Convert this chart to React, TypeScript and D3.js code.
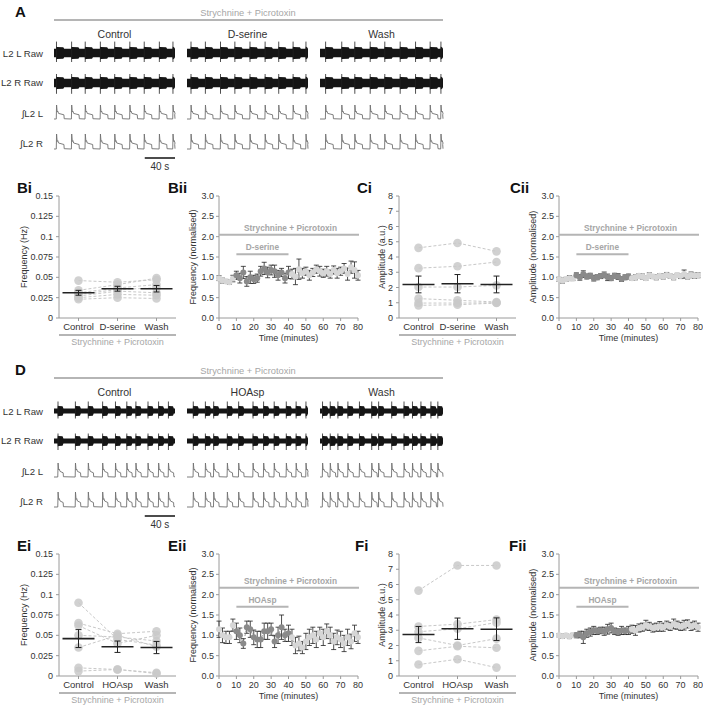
import React from "react";
import * as d3 from "d3";

const FONT = "'Liberation Sans', Arial, Helvetica, sans-serif";

// ---------------- Data ----------------
const traceLabels = ["L2 L Raw", "L2 R Raw", "\u222BL2 L", "\u222BL2 R"];
const conditionsTop = ["Control", "D-serine", "Wash"];
const conditionsBottom = ["Control", "HOAsp", "Wash"];
const drugTop = "D-serine";
const drugBottom = "HOAsp";
const bathLabel = "Strychnine + Picrotoxin";
const scaleBarLabel = "40 s";
const scaleBarSeconds = 40;
const blockSeconds = 160;

// burst onset times (s) within each 160 s trace block
const burstsTop = [
  [3, 23, 41, 61, 80, 100, 119, 139, 157],
  [5, 24, 44, 63, 83, 103, 121, 140, 157],
  [7, 28, 45, 65, 84, 104, 124, 143, 157],
];
const burstsBottom = [
  [5, 28, 45, 64, 81, 96, 108, 124, 138, 151],
  [8, 24, 35, 53, 68, 87, 101, 115, 131, 144, 157],
  [3, 13, 23, 36, 51, 67, 76, 93, 109, 120, 131, 144, 153],
];

// Frequency (Hz) per preparation: [Control, Drug, Wash]
const freqTicks = [0, 0.025, 0.05, 0.075, 0.1, 0.125, 0.15];
const freqTickLabels = ["0", "0.025", "0.05", "0.075", "0.1", "0.125", "0.15"];
const ampTicks = [0, 1, 2, 3, 4, 5, 6, 7, 8];
const ampTickLabels = ["0", "1", "2", "3", "4", "5", "6", "7", "8"];
const normTicks = [0, 0.5, 1, 1.5, 2, 2.5, 3];
const normTickLabels = ["0.0", "0.5", "1.0", "1.5", "2.0", "2.5", "3.0"];
const timeTicks = [0, 10, 20, 30, 40, 50, 60, 70, 80];

const biSubjects = [
  [0.046, 0.044, 0.047],
  [0.034, 0.041, 0.049],
  [0.031, 0.037, 0.041],
  [0.029, 0.035, 0.037],
  [0.027, 0.033, 0.031],
  [0.025, 0.029, 0.028],
  [0.023, 0.025, 0.024],
];
const biMean = [0.031, 0.036, 0.036];
const biSem = [0.003, 0.003, 0.004];

const ciSubjects = [
  [4.6, 4.92, 4.37],
  [3.27, 3.39, 3.67],
  [2.03, 2.03, 2.14],
  [1.27, 1.16, 1.05],
  [0.98, 0.98, 1.0],
  [0.83, 0.87, 0.98],
];
const ciMean = [2.2, 2.25, 2.2];
const ciSem = [0.55, 0.6, 0.55];

const eiSubjects = [
  [0.09, 0.045, 0.038],
  [0.065, 0.052, 0.055],
  [0.062, 0.04, 0.05],
  [0.05, 0.048, 0.043],
  [0.035, 0.05, 0.036],
  [0.01, 0.008, 0.004],
  [0.006, 0.008, 0.003],
];
const eiMean = [0.046, 0.036, 0.035];
const eiSem = [0.011, 0.007, 0.0075];

const fiSubjects = [
  [5.6, 7.25, 7.25],
  [3.25, 3.4, 3.7],
  [2.9, 3.1, 3.5],
  [2.5, 2.0, 2.45],
  [1.65, 1.95, 1.85],
  [0.75, 1.1, 0.55],
];
const fiMean = [2.72, 3.1, 3.07];
const fiSem = [0.53, 0.7, 0.74];

// time course (minutes), normalised values
const seriesTimes = [
  0, 2, 4, 6, 8, 10, 12, 14, 16, 18, 20, 22, 24, 26, 28, 30, 32, 34, 36, 38, 40,
  42, 44, 46, 48, 50, 52, 54, 56, 58, 60, 62, 64, 66, 68, 70, 72, 74, 76, 78, 80,
];
const drugStart = 10;
const drugEnd = 40;
const biiMean = [
  0.98, 0.92, 0.9, 0.88, 0.97, 1.05, 0.98, 1.12, 0.9, 1.0, 0.95, 0.98, 1.15, 1.22, 1.12,
  1.18, 1.15, 1.05, 1.12, 0.98, 1.12, 1.08, 1.02, 1.2, 1.1, 1.15, 1.05, 1.12, 1.2, 1.15,
  1.1, 1.15, 1.08, 1.18, 1.1, 1.15, 1.22, 1.08, 1.25, 1.18, 1.05,
];
const biiErr = [
  0.06, 0.06, 0.05, 0.05, 0.08, 0.1, 0.12, 0.15, 0.12, 0.15, 0.1, 0.1, 0.12, 0.15, 0.13,
  0.12, 0.15, 0.12, 0.1, 0.12, 0.15, 0.12, 0.2, 0.25, 0.12, 0.1, 0.12, 0.1, 0.1, 0.12,
  0.1, 0.12, 0.1, 0.1, 0.12, 0.1, 0.12, 0.15, 0.15, 0.2, 0.12,
];
const ciiMean = [
  0.95, 0.92, 0.95, 0.98, 0.97, 1.05, 1.0, 1.08, 1.02, 1.04, 0.98, 1.0, 1.03, 1.06, 1.0,
  0.98, 1.04, 1.02, 0.96, 1.0, 1.02, 0.98, 1.0, 1.04, 1.02, 0.98, 1.05, 1.02, 1.0, 1.04,
  1.02, 1.06, 1.03, 1.0, 1.05, 1.03, 1.08, 1.02, 1.06, 1.04, 1.05,
];
const ciiErr = [
  0.05, 0.06, 0.05, 0.06, 0.05, 0.06, 0.07, 0.08, 0.06, 0.06, 0.07, 0.06, 0.06, 0.07, 0.08,
  0.06, 0.06, 0.07, 0.06, 0.06, 0.06, 0.05, 0.06, 0.05, 0.06, 0.05, 0.06, 0.05, 0.06, 0.05,
  0.06, 0.06, 0.05, 0.06, 0.05, 0.06, 0.1, 0.06, 0.07, 0.06, 0.06,
];
const eiiMean = [
  1.15, 1.0, 0.95, 0.95, 1.25, 1.1, 1.0, 0.8, 1.2, 1.15, 0.95, 0.9, 0.9, 1.1, 1.1, 1.15,
  0.85, 1.0, 1.2, 1.0, 1.05, 0.95, 0.75, 0.8, 0.7, 0.85, 0.95, 1.0, 0.9, 1.05, 0.95, 1.1,
  1.0, 0.85, 0.95, 0.9, 0.8, 0.95, 0.85, 1.05, 0.95,
];
const eiiErr = [
  0.2, 0.18, 0.15, 0.15, 0.15, 0.2, 0.18, 0.12, 0.15, 0.2, 0.18, 0.2, 0.2, 0.2, 0.2, 0.15,
  0.15, 0.2, 0.3, 0.15, 0.2, 0.2, 0.2, 0.18, 0.15, 0.2, 0.2, 0.2, 0.2, 0.15, 0.2, 0.18,
  0.2, 0.2, 0.18, 0.2, 0.2, 0.2, 0.18, 0.2, 0.15,
];
const fiiMean = [
  1.0, 0.98, 1.0, 0.97, 1.0, 1.0, 1.02, 0.95, 1.05, 1.08, 1.12, 1.1, 1.12, 1.1, 1.15, 1.18,
  1.1, 1.08, 1.12, 1.1, 1.12, 1.15, 1.12, 1.18, 1.2, 1.25, 1.22, 1.18, 1.2, 1.22, 1.2,
  1.25, 1.22, 1.28, 1.25, 1.22, 1.25, 1.28, 1.22, 1.25, 1.2,
];
const fiiErr = [
  0.04, 0.05, 0.04, 0.05, 0.05, 0.06, 0.08, 0.15, 0.1, 0.1, 0.1, 0.08, 0.08, 0.1, 0.12,
  0.12, 0.08, 0.08, 0.1, 0.08, 0.1, 0.1, 0.12, 0.1, 0.1, 0.12, 0.1, 0.1, 0.1, 0.12, 0.1,
  0.1, 0.1, 0.12, 0.1, 0.1, 0.12, 0.1, 0.1, 0.1, 0.1,
];

// ---------------- Styles / layout ----------------
const TEXT = "#333";
const AXIS = "#9a9a9a";
const GREYLINE = "#b5b5b5";
const GREYTEXT = "#a6a6a6";
const HALF = 358;
const blocksX = [
  [54, 175],
  [187, 308],
  [320, 443],
];

type Pt = { t: number; a: number };

function burstEnd(onsets: number[], i: number, dur: number) {
  const next = i + 1 < onsets.length ? onsets[i + 1] - 1.5 : blockSeconds;
  return Math.min(onsets[i] + dur, next, blockSeconds);
}

function rawEnvelope(onsets: number[], dur: number, base: number, burst: number): Pt[] {
  const pts: Pt[] = [{ t: 0, a: base }];
  onsets.forEach((o, i) => {
    const e = burstEnd(onsets, i, dur);
    pts.push({ t: Math.max(o - 0.3, 0), a: base });
    pts.push({ t: o, a: burst * 1.1 });
    pts.push({ t: Math.min(o + 1, e), a: burst });
    pts.push({ t: Math.max(e - 1.2, o + 1), a: burst * 0.95 });
    pts.push({ t: e, a: base });
  });
  pts.push({ t: blockSeconds, a: base });
  return pts;
}

function integrated(onsets: number[], dur: number): Pt[] {
  const pts: Pt[] = [{ t: 0, a: 0 }];
  onsets.forEach((o, i) => {
    const e = burstEnd(onsets, i, dur);
    const seg: Pt[] = [
      { t: o, a: 0 },
      { t: o + 0.4, a: 1 },
      { t: o + 1.2, a: 0.5 },
      { t: o + 2.0, a: 0.56 },
      { t: o + 3.0, a: 0.4 },
      { t: e - 0.4, a: 0.3 },
      { t: e, a: 0.02 },
    ];
    seg.forEach((p) => {
      if (p.t <= blockSeconds) pts.push(p);
    });
  });
  pts.push({ t: blockSeconds, a: 0.02 });
  return pts;
}

function Traces({ dy, letter, conds, bursts, dur, base, burst }: any) {
  const rowRawL = 53 + dy;
  const rowRawR = 83 + dy;
  const rowIntL = 119 + dy;
  const rowIntR = 149 + dy;
  const labelY = [57, 86, 117, 147];
  return (
    <g>
      <text x={15} y={17 + dy} fontSize={15} fontWeight="bold" fill="#111">
        {letter}
      </text>
      <text x={248} y={16 + dy} textAnchor="middle" fontSize={9.3} fill={GREYTEXT}>
        {bathLabel}
      </text>
      <line x1={54} x2={443} y1={20 + dy} y2={20 + dy} stroke={GREYLINE} strokeWidth={2} />
      {traceLabels.map((l, i) => (
        <text key={l} x={43} y={labelY[i] + dy} textAnchor="end" fontSize={9.6} fill={TEXT}>
          {l}
        </text>
      ))}
      {conds.map((c: string, bi: number) => {
        const [x0, x1] = blocksX[bi];
        const xs = d3.scaleLinear().domain([0, blockSeconds]).range([x0, x1]);
        const env = rawEnvelope(bursts[bi], dur, base, burst);
        const areaFor = (cy: number) =>
          d3
            .area<Pt>()
            .x((d) => xs(d.t))
            .y0((d) => cy + d.a)
            .y1((d) => cy - d.a)(env) as string;
        const integ = integrated(bursts[bi], dur);
        const lineFor = (cy: number, h: number) =>
          d3
            .line<Pt>()
            .x((d) => xs(d.t))
            .y((d) => cy - d.a * h)(integ) as string;
        return (
          <g key={c}>
            <text x={(x0 + x1) / 2} y={38 + dy} textAnchor="middle" fontSize={10.5} fill={TEXT}>
              {c}
            </text>
            <path d={areaFor(rowRawL)} fill="#151515" />
            <path d={areaFor(rowRawR)} fill="#151515" />
            {bursts[bi].map((o: number, k: number) => (
              <g key={k}>
                <line x1={xs(o + 0.3)} x2={xs(o + 0.3)} y1={rowRawL - burst * 1.9} y2={rowRawL + burst * 1.5} stroke="#222" strokeWidth={0.8} />
                <line x1={xs(o + 0.3)} x2={xs(o + 0.3)} y1={rowRawR - burst * 1.5} y2={rowRawR + burst * 1.8} stroke="#222" strokeWidth={0.8} />
              </g>
            ))}
            <path d={lineFor(rowIntL, 14)} fill="none" stroke="#707070" strokeWidth={0.9} />
            <path d={lineFor(rowIntR, 15)} fill="none" stroke="#707070" strokeWidth={0.9} />
          </g>
        );
      })}
      {(() => {
        const xs = d3.scaleLinear().domain([0, blockSeconds]).range(blocksX[0]);
        const xEnd = xs(blockSeconds);
        const xStart = xs(blockSeconds - scaleBarSeconds);
        return (
          <g>
            <line x1={xStart} x2={xEnd} y1={158 + dy} y2={158 + dy} stroke="#111" strokeWidth={1.5} />
            <text x={(xStart + xEnd) / 2} y={170 + dy} textAnchor="middle" fontSize={10} fill={TEXT}>
              {scaleBarLabel}
            </text>
          </g>
        );
      })()}
    </g>
  );
}

function ScatterPanel({ ox, dy, cats, subjects, mean, sem, yMax, ticks, tickLabels, yLabel, yLabelX, letter, letterX }: any) {
  const w = 117;
  const x = d3.scaleBand<string>().domain(cats).range([ox, ox + w]);
  const cx = (i: number) => (x(cats[i]) as number) + x.bandwidth() / 2;
  const y = d3.scaleLinear().domain([0, yMax]).range([318 + dy, 196 + dy]);
  const line = d3
    .line<number>()
    .x((_, i) => cx(i))
    .y((v) => y(v));
  return (
    <g>
      <text x={letterX} y={193 + dy} fontSize={15} fontWeight="bold" fill="#111">
        {letter}
      </text>
      <text transform={`translate(${yLabelX},${(y(0) + y(yMax)) / 2}) rotate(-90)`} textAnchor="middle" dy="0.35em" fontSize={9} fill={TEXT}>
        {yLabel}
      </text>
      <line x1={ox} x2={ox} y1={y(yMax)} y2={y(0)} stroke={AXIS} />
      {ticks.map((t: number, i: number) => (
        <g key={i}>
          <line x1={ox - 3} x2={ox} y1={y(t)} y2={y(t)} stroke={AXIS} />
          <text x={ox - 6} y={y(t)} dy="0.35em" textAnchor="end" fontSize={9} fill={TEXT}>
            {tickLabels[i]}
          </text>
        </g>
      ))}
      <line x1={ox} x2={ox + w} y1={y(0)} y2={y(0)} stroke={AXIS} />
      {cats.map((c: string, i: number) => (
        <g key={c}>
          <line x1={cx(i)} x2={cx(i)} y1={y(0)} y2={y(0) + 3} stroke={AXIS} />
          <text x={cx(i)} y={330 + dy} textAnchor="middle" fontSize={9.5} fill={TEXT}>
            {c}
          </text>
        </g>
      ))}
      <line x1={ox} x2={ox + w} y1={335 + dy} y2={335 + dy} stroke={GREYLINE} strokeWidth={2} />
      <text x={ox + w / 2} y={345 + dy} textAnchor="middle" fontSize={9} fill={GREYTEXT}>
        {bathLabel}
      </text>
      {subjects.map((s: number[], k: number) => (
        <path key={k} d={line(s) as string} fill="none" stroke="#c8c8c8" strokeWidth={1} strokeDasharray="3,2" />
      ))}
      {subjects.map((s: number[], k: number) =>
        s.map((v, i) => <circle key={`${k}-${i}`} cx={cx(i)} cy={y(v)} r={4.3} fill="#c9c9c9" fillOpacity={0.85} />)
      )}
      {mean.map((m: number, i: number) => (
        <g key={i} stroke="#222">
          <line x1={cx(i)} x2={cx(i)} y1={y(m - sem[i])} y2={y(m + sem[i])} strokeWidth={1} />
          <line x1={cx(i) - 3} x2={cx(i) + 3} y1={y(m - sem[i])} y2={y(m - sem[i])} strokeWidth={1} />
          <line x1={cx(i) - 3} x2={cx(i) + 3} y1={y(m + sem[i])} y2={y(m + sem[i])} strokeWidth={1} />
          <line x1={cx(i) - 16} x2={cx(i) + 16} y1={y(m)} y2={y(m)} strokeWidth={1.6} />
        </g>
      ))}
    </g>
  );
}

function TimePanel({ ox, dy, means, errs, yLabel, yLabelX, letter, letterX, drug, bathLevel, drugLevel }: any) {
  const x = d3.scaleLinear().domain([0, 80]).range([ox, ox + 139]);
  const y = d3.scaleLinear().domain([0, 3]).range([318 + dy, 196 + dy]);
  const line = d3
    .line<number>()
    .x((_, i) => x(seriesTimes[i]))
    .y((v) => y(v));
  const isDrug = (t: number) => t >= drugStart && t <= drugEnd;
  return (
    <g>
      <text x={letterX} y={193 + dy} fontSize={15} fontWeight="bold" fill="#111">
        {letter}
      </text>
      <text transform={`translate(${yLabelX},${(y(0) + y(3)) / 2}) rotate(-90)`} textAnchor="middle" dy="0.35em" fontSize={9} fill={TEXT}>
        {yLabel}
      </text>
      <line x1={ox} x2={ox} y1={y(3)} y2={y(0)} stroke={AXIS} />
      {normTicks.map((t, i) => (
        <g key={i}>
          <line x1={ox - 3} x2={ox} y1={y(t)} y2={y(t)} stroke={AXIS} />
          <text x={ox - 5} y={y(t)} dy="0.35em" textAnchor="end" fontSize={9} fill={TEXT}>
            {normTickLabels[i]}
          </text>
        </g>
      ))}
      <line x1={ox} x2={x(80)} y1={y(0)} y2={y(0)} stroke={AXIS} />
      {timeTicks.map((t) => (
        <g key={t}>
          <line x1={x(t)} x2={x(t)} y1={y(0)} y2={y(0) + 3} stroke={AXIS} />
          <text x={x(t)} y={330 + dy} textAnchor="middle" fontSize={9} fill={TEXT}>
            {t}
          </text>
        </g>
      ))}
      <text x={(x(0) + x(80)) / 2} y={341 + dy} textAnchor="middle" fontSize={9} fill={TEXT}>
        Time (minutes)
      </text>
      <line x1={ox} x2={x(80) + 1} y1={y(bathLevel)} y2={y(bathLevel)} stroke={GREYLINE} strokeWidth={2} />
      <text x={(x(0) + x(80)) / 2 + 2} y={y(bathLevel) - 4} textAnchor="middle" fontSize={8.3} fontWeight="bold" fill={GREYTEXT}>
        {bathLabel}
      </text>
      <line x1={x(drugStart)} x2={x(drugEnd)} y1={y(drugLevel)} y2={y(drugLevel)} stroke={GREYLINE} strokeWidth={2} />
      <text x={x((drugStart + drugEnd) / 2)} y={y(drugLevel) - 4} textAnchor="middle" fontSize={8.3} fontWeight="bold" fill={GREYTEXT}>
        {drug}
      </text>
      {means.map((m: number, i: number) => {
        const cx = x(seriesTimes[i]);
        return (
          <g key={i} stroke="#222" strokeWidth={0.8}>
            <line x1={cx} x2={cx} y1={y(m - errs[i])} y2={y(m + errs[i])} />
            <line x1={cx - 2.5} x2={cx + 2.5} y1={y(m - errs[i])} y2={y(m - errs[i])} />
            <line x1={cx - 2.5} x2={cx + 2.5} y1={y(m + errs[i])} y2={y(m + errs[i])} />
          </g>
        );
      })}
      <path d={line(means) as string} fill="none" stroke="#777" strokeWidth={0.8} strokeDasharray="2,2" />
      {means.map((m: number, i: number) => (
        <circle key={i} cx={x(seriesTimes[i])} cy={y(m)} r={3} fill={isDrug(seriesTimes[i]) ? "#8a8a8a" : "#d6d6d6"} />
      ))}
    </g>
  );
}

export default function App() {
  return (
    <svg
      width={703}
      height={708}
      viewBox="0 0 703 708"
      style={{ position: "absolute", left: 0, top: 0, display: "block", background: "#fff" }}
      fontFamily={FONT}
    >
      <rect width={703} height={708} fill="#fff" />
      <Traces dy={0} letter="A" conds={conditionsTop} bursts={burstsTop} dur={10.5} base={4.2} burst={6} />
      <Traces dy={HALF} letter="D" conds={conditionsBottom} bursts={burstsBottom} dur={7.5} base={2.6} burst={5} />

      <ScatterPanel ox={59} dy={0} cats={conditionsTop} subjects={biSubjects} mean={biMean} sem={biSem} yMax={0.15} ticks={freqTicks} tickLabels={freqTickLabels} yLabel="Frequency (Hz)" yLabelX={24} letter="Bi" letterX={17} />
      <TimePanel ox={219} dy={0} means={biiMean} errs={biiErr} yLabel="Frequency (normalised)" yLabelX={193} letter="Bii" letterX={168} drug={drugTop} bathLevel={2.05} drugLevel={1.57} />
      <ScatterPanel ox={399} dy={0} cats={conditionsTop} subjects={ciSubjects} mean={ciMean} sem={ciSem} yMax={8} ticks={ampTicks} tickLabels={ampTickLabels} yLabel="Amplitude (a.u.)" yLabelX={382} letter="Ci" letterX={357} />
      <TimePanel ox={559} dy={0} means={ciiMean} errs={ciiErr} yLabel="Amplitude (normalised)" yLabelX={533} letter="Cii" letterX={510} drug={drugTop} bathLevel={2.05} drugLevel={1.57} />

      <ScatterPanel ox={59} dy={HALF} cats={conditionsBottom} subjects={eiSubjects} mean={eiMean} sem={eiSem} yMax={0.15} ticks={freqTicks} tickLabels={freqTickLabels} yLabel="Frequency (Hz)" yLabelX={24} letter="Ei" letterX={17} />
      <TimePanel ox={219} dy={HALF} means={eiiMean} errs={eiiErr} yLabel="Frequency (normalised)" yLabelX={193} letter="Eii" letterX={168} drug={drugBottom} bathLevel={2.17} drugLevel={1.7} />
      <ScatterPanel ox={399} dy={HALF} cats={conditionsBottom} subjects={fiSubjects} mean={fiMean} sem={fiSem} yMax={8} ticks={ampTicks} tickLabels={ampTickLabels} yLabel="Amplitude (a.u.)" yLabelX={382} letter="Fi" letterX={355} />
      <TimePanel ox={559} dy={HALF} means={fiiMean} errs={fiiErr} yLabel="Amplitude (normalised)" yLabelX={533} letter="Fii" letterX={509} drug={drugBottom} bathLevel={2.17} drugLevel={1.7} />
    </svg>
  );
}
